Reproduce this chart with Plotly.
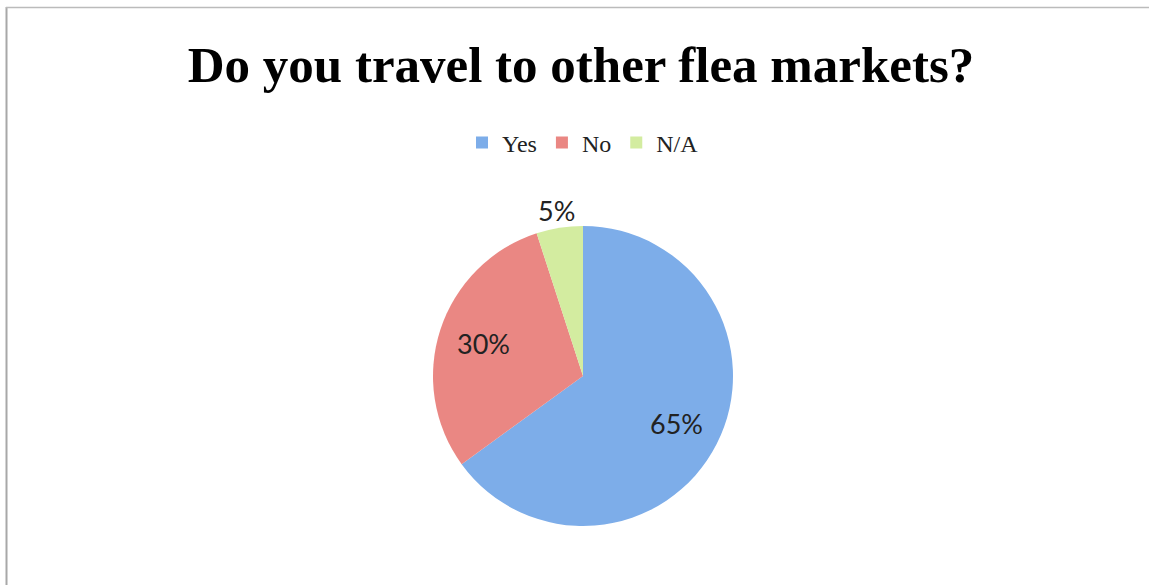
import math
import plotly.graph_objects as go

categories = ["Yes", "No", "N/A"]
values = [65, 30, 5]
colors = ["#7dade9", "#ea8783", "#d3eca0"]
title_text = "Do you travel to other flea markets?"

W, H = 1149, 585
cx, cy, r = 583, 376, 150
label_radius = [0.70, 0.70, 1.12]  # fraction of pie radius for each label

fig = go.Figure(go.Pie(
    labels=categories,
    values=values,
    sort=False,
    direction="clockwise",
    rotation=0,
    marker=dict(colors=colors, line=dict(width=0)),
    textinfo="none",
    showlegend=True,
    hoverinfo="label+percent",
    domain=dict(x=[(cx - r) / W, (cx + r) / W], y=[(H - cy - r) / H, (H - cy + r) / H]),
))

# percentage labels placed at each slice's mid angle, derived from the values
total = sum(values)
annotations = []
cum = 0
for v, f in zip(values, label_radius):
    mid = (cum + v / 2) / total * 2 * math.pi
    cum += v
    px = cx + f * r * math.sin(mid)
    py = cy - f * r * math.cos(mid)
    annotations.append(dict(
        x=px / W, y=1 - py / H, xref="paper", yref="paper",
        text=f"{round(v / total * 100)}%", showarrow=False,
        font=dict(family="Lato, Open Sans, sans-serif", size=27, color="#222222"),
        xanchor="center", yanchor="middle",
    ))

fig.update_layout(
    width=W, height=H,
    margin=dict(l=0, r=0, t=0, b=0),
    paper_bgcolor="white",
    plot_bgcolor="white",
    title=dict(
        text="<b>" + title_text + "</b>",
        font=dict(family="Liberation Serif, serif", size=51, color="black"),
        x=581 / W, xanchor="center",
        y=1 - 64 / H, yanchor="middle",
    ),
    legend=dict(
        orientation="h",
        x=583 / W, xanchor="center",
        y=1 - 143 / H, yanchor="middle",
        font=dict(family="Liberation Serif, serif", size=24, color="#222222"),
        itemwidth=30,
        traceorder="normal",
    ),
    annotations=annotations,
    shapes=[
        dict(type="line", xref="paper", yref="paper", x0=6.5 / W, x1=6.5 / W, y0=0, y1=1 - 7 / H,
             line=dict(color="#a8a8a8", width=2)),
        dict(type="line", xref="paper", yref="paper", x0=6 / W, x1=1, y0=1 - 7.5 / H, y1=1 - 7.5 / H,
             line=dict(color="#bbbbbb", width=1.5)),
    ],
)

fig.write_html("out.html", config={"displayModeBar": False},
               post_script="document.body.style.margin='0';document.body.style.overflow='hidden';")
